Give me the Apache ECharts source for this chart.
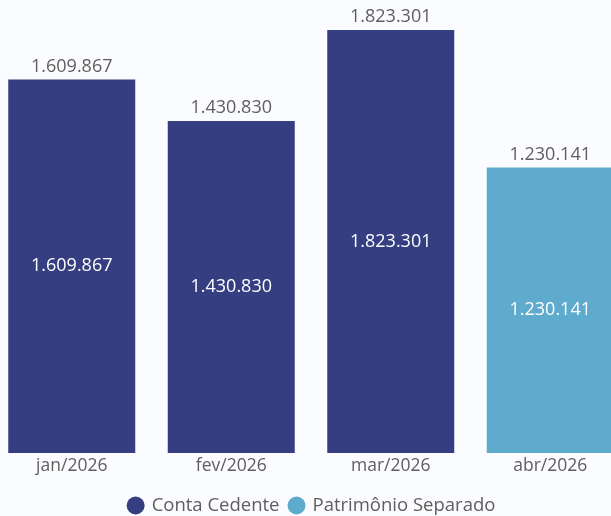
<!DOCTYPE html>
<html><head><meta charset="utf-8">
<script src="https://cdn.jsdelivr.net/npm/echarts@6/dist/echarts.min.js"></script>
<style>html,body{margin:0;padding:0;background:#fafcff;overflow:hidden;width:611px;height:516px;}#c{width:638px;height:516px;margin-left:-8px;}</style>
</head><body><div id="c"></div>
<script>
var categories = ['jan/2026','fev/2026','mar/2026','abr/2026'];
var contaCedente = [1609867, 1430830, 1823301, null];
var patrimonioSeparado = [null, null, null, 1230141];
var totals = categories.map(function(_, i){ return (contaCedente[i]||0) + (patrimonioSeparado[i]||0); });
function fmt(v){ return String(Math.round(v)).replace(/\B(?=(\d{3})+(?!\d))/g, '.'); }
var FONT = '"Segoe UI", "Open Sans", "Noto Sans", sans-serif';
var TXT = '#605e5c';
var chart = echarts.init(document.getElementById('c'));
chart.setOption({
  backgroundColor: '#fafcff',
  animation: false,
  textStyle: {fontFamily: FONT},
  grid: {left: 0, right: 0, top: 30, bottom: 63, containLabel: false},
  legend: {
    top: 491, left: 'center', icon: 'circle', itemWidth: 18, itemHeight: 18, itemGap: 8,
    textStyle: {fontSize: 18.5, color: TXT, fontFamily: FONT, padding: [0,0,0,2]},
    data: ['Conta Cedente','Patrimônio Separado']
  },
  xAxis: {
    type: 'category', data: categories,
    axisLine: {show: false}, axisTick: {show: false},
    axisLabel: {fontSize: 17.5, color: TXT, margin: 4, fontFamily: FONT}
  },
  yAxis: {type: 'value', min: 0, max: 1823301, show: false, splitLine: {show: false}},
  series: [
    {name: 'Conta Cedente', type: 'bar', data: contaCedente, barWidth: 127, barGap: '-100%',
     itemStyle: {color: '#343e80'},
     label: {show: true, position: 'inside', color: '#fff', fontSize: 18, fontFamily: FONT,
             formatter: function(p){ return fmt(p.value); }}},
    {name: 'Patrimônio Separado', type: 'bar', data: patrimonioSeparado, barWidth: 127, barGap: '-100%',
     itemStyle: {color: '#5eabcd'},
     label: {show: true, position: 'inside', color: '#fff', fontSize: 18, fontFamily: FONT,
             formatter: function(p){ return fmt(p.value); }}},
    {name: 'Total', type: 'bar', data: totals, barWidth: 127, barGap: '-100%', z: 1,
     itemStyle: {color: 'rgba(0,0,0,0)'}, silent: true,
     label: {show: true, position: 'top', distance: 4, color: TXT, fontSize: 18, fontFamily: FONT,
             formatter: function(p){ return fmt(p.value); }}}
  ]
});
</script></body></html>
